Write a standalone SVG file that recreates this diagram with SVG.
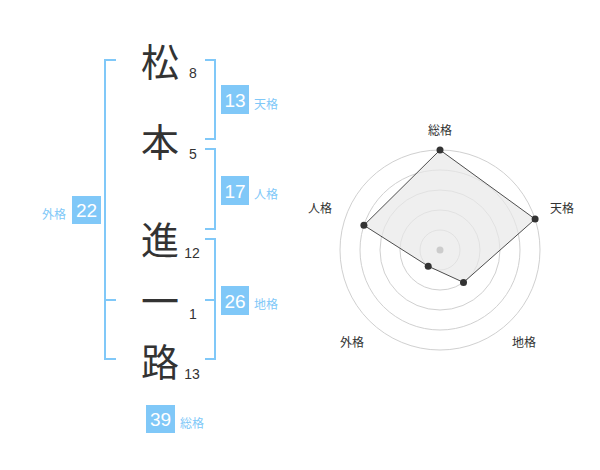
<svg xmlns="http://www.w3.org/2000/svg" width="600" height="470" viewBox="0 0 600 470">
<style>
.kanji{font-family:"Noto Sans CJK JP","Noto Sans CJK SC",sans-serif;font-size:38px;fill:#333;text-anchor:middle}
.stroke{font-family:"Liberation Sans",Arial,sans-serif;font-size:14px;fill:#333;text-anchor:middle}
.box{fill:#80c8f8}
.boxnum{font-family:"Liberation Sans",Arial,sans-serif;font-size:19px;fill:#fff;text-anchor:middle}
.blab{font-family:"Noto Sans CJK JP",sans-serif;font-size:12px;fill:#80c8f8}
.br{fill:none;stroke:#80c8f8;stroke-width:2}
.ring{fill:none;stroke:#d0d0d0;stroke-width:1}
.rlab{font-family:"Noto Sans CJK JP",sans-serif;font-size:12px;fill:#333}
.dot{fill:#333}
</style>
<rect width="600" height="470" fill="#fff"/>
<g id="name">
<g id="c1"><text class="kanji" x="160" y="75.5">松</text><text class="stroke" x="193" y="77.5">8</text></g>
<g id="c2"><text class="kanji" x="160" y="155.5">本</text><text class="stroke" x="193" y="158.5">5</text></g>
<g id="c3"><text class="kanji" x="160" y="254">進</text><text class="stroke" x="192" y="258">12</text></g>
<g id="c4"><text class="kanji" x="160" y="314.5">一</text><text class="stroke" x="193" y="318.5">1</text></g>
<g id="c5"><text class="kanji" x="160" y="375.5">路</text><text class="stroke" x="192" y="378.5">13</text></g>
</g>
<g id="connectors">
<path class="br" d="M116,60H105V359H116M105,300H116"/>
<path class="br" d="M205,60H215V139H205"/>
<path class="br" d="M205,149H215V229H205"/>
<path class="br" d="M205,239H215V359H205M205,300H215"/>
</g>
<g id="tenkaku"><rect class="box" x="221" y="85" width="28" height="29"/><text class="boxnum" x="235" y="106.5">13</text><text class="blab" x="254" y="108.5">天格</text></g>
<g id="jinkaku"><rect class="box" x="221" y="176" width="28" height="29"/><text class="boxnum" x="235" y="197.5">17</text><text class="blab" x="254" y="199">人格</text></g>
<g id="gaikaku"><rect class="box" x="72" y="196" width="29" height="28"/><text class="boxnum" x="86.5" y="217">22</text><text class="blab" x="66" y="219" text-anchor="end">外格</text></g>
<g id="chikaku"><rect class="box" x="221" y="286" width="28" height="29"/><text class="boxnum" x="235" y="307.5">26</text><text class="blab" x="254" y="309">地格</text></g>
<g id="soukaku"><rect class="box" x="146" y="405" width="29" height="28"/><text class="boxnum" x="160.5" y="426">39</text><text class="blab" x="180" y="428">総格</text></g>
<g id="radar">
<circle class="ring" cx="440" cy="250" r="20"/>
<circle class="ring" cx="440" cy="250" r="40"/>
<circle class="ring" cx="440" cy="250" r="60"/>
<circle class="ring" cx="440" cy="250" r="80"/>
<circle class="ring" cx="440" cy="250" r="100"/>
<polygon points="440,150 535.1,219.1 463.5,282.4 428.2,266.2 363.9,225.3" fill="#e8e8e8" fill-opacity="0.7" stroke="#222" stroke-width="0.8"/>
<circle cx="440" cy="250" r="3.5" fill="#ccc"/>
<circle class="dot" cx="440" cy="150" r="3.5"/>
<circle class="dot" cx="535.1" cy="219.1" r="3.5"/>
<circle class="dot" cx="463.5" cy="282.4" r="3.5"/>
<circle class="dot" cx="428.2" cy="266.2" r="3.5"/>
<circle class="dot" cx="363.9" cy="225.3" r="3.5"/>
<text class="rlab" x="440" y="135" text-anchor="middle">総格</text>
<text class="rlab" x="550" y="213">天格</text>
<text class="rlab" x="332" y="213" text-anchor="end">人格</text>
<text class="rlab" x="364" y="347" text-anchor="end">外格</text>
<text class="rlab" x="512" y="347">地格</text>
</g>
</svg>
